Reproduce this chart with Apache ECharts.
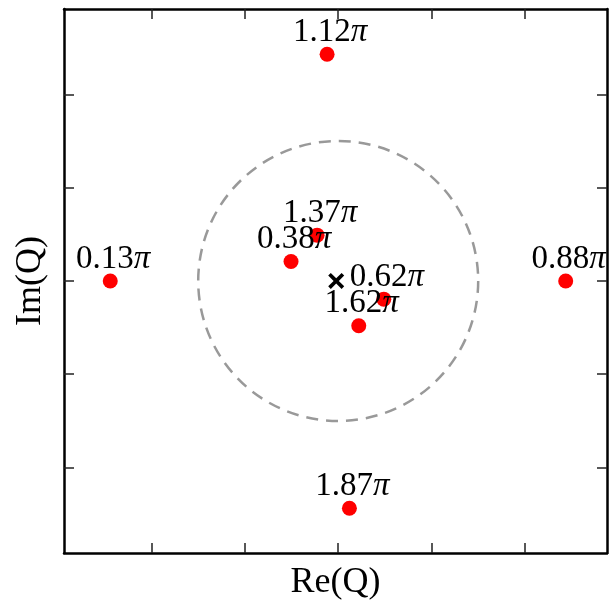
<!DOCTYPE html>
<html>
<head>
<meta charset="utf-8">
<script src="https://cdn.jsdelivr.net/npm/echarts@6/dist/echarts.min.js"></script>
<style>
html,body{margin:0;padding:0;background:#fff;}
#chart{width:610px;height:606px;}
</style>
</head>
<body>
<div id="chart"></div>
<script>
// Data
const phaseLabels = ['0.13', '0.38', '0.62', '0.88', '1.12', '1.37', '1.62', '1.87'];
const reValues    = [-2.44, -0.505, 0.488, 2.435, -0.119, -0.226, 0.22, 0.12];
const imValues    = [0.0, 0.209, -0.195, 0.0, 2.431, 0.491, -0.481, -2.438];
const centerPoint = [0, 0];
const circleRadius = 1.5;
const tickValues = [-2, -1, 0, 1, 2];
const xRange = [-2.935, 2.877];
const yRange = [-2.918, 2.917];

const FONT = 'Liberation Serif';
const points = reValues.map((x, i) => ({ value: [x, imValues[i]], name: phaseLabels[i] }));

function axisCommon(extra) {
  return Object.assign({
    type: 'value',
    axisLine: { show: true, onZero: false, lineStyle: { color: '#000', width: 2.5 } },
    axisTick: { show: true, inside: true, length: 10, customValues: tickValues, lineStyle: { color: '#222', width: 1.5 } },
    axisLabel: { show: false },
    splitLine: { show: false }
  }, extra);
}

const chart = echarts.init(document.getElementById('chart'), null, { renderer: 'canvas' });
chart.setOption({
  animation: false,
  backgroundColor: '#fff',
  grid: { left: 64, top: 9, width: 543, height: 545, containLabel: false },
  xAxis: [
    axisCommon({ position: 'bottom', min: xRange[0], max: xRange[1], name: 'Re(Q)', nameLocation: 'middle', nameGap: 12,
      nameTextStyle: { fontFamily: FONT, fontSize: 36, color: '#000', verticalAlign: 'top' } }),
    axisCommon({ position: 'top', min: xRange[0], max: xRange[1] })
  ],
  yAxis: [
    axisCommon({ position: 'left', min: yRange[0], max: yRange[1], name: 'Im(Q)', nameLocation: 'middle', nameGap: 15,
      nameTextStyle: { fontFamily: FONT, fontSize: 36, color: '#000' } }),
    axisCommon({ position: 'right', min: yRange[0], max: yRange[1] })
  ],
  series: [
    {
      type: 'custom',
      coordinateSystem: 'cartesian2d',
      data: [[centerPoint[0], centerPoint[1], circleRadius]],
      renderItem: function (params, api) {
        const c = api.coord([api.value(0), api.value(1)]);
        const r = api.size([api.value(2), api.value(2)]);
        return {
          type: 'circle',
          shape: { cx: c[0], cy: c[1], r: (r[0] + r[1]) / 2 },
          style: { fill: null, stroke: '#999999', lineWidth: 2.5, lineDash: [12, 8] }
        };
      },
      z: 1
    },
    {
      type: 'scatter',
      data: [centerPoint],
      symbol: 'path://M2.6,0 L8,5.4 L13.4,0 L16,2.6 L10.6,8 L16,13.4 L13.4,16 L8,10.6 L2.6,16 L0,13.4 L5.4,8 L0,2.6 Z',
      symbolSize: 16,
      symbolOffset: [-2, 0],
      itemStyle: { color: '#000', opacity: 1 },
      z: 2
    },
    {
      type: 'scatter',
      data: points,
      symbol: 'circle',
      symbolSize: 15,
      itemStyle: { color: '#ff0000', opacity: 1 },
      z: 3,
      label: {
        show: true,
        position: 'top',
        distance: 0,
        offset: [3, 2],
        formatter: function (p) { return '{n|' + p.name + '}{p|π}'; },
        rich: {
          n: { fontFamily: FONT, fontSize: 33, color: '#000', lineHeight: 33 },
          p: { fontFamily: FONT, fontSize: 33, fontStyle: 'italic', color: '#000', lineHeight: 33 }
        }
      }
    }
  ]
});
</script>
</body>
</html>
